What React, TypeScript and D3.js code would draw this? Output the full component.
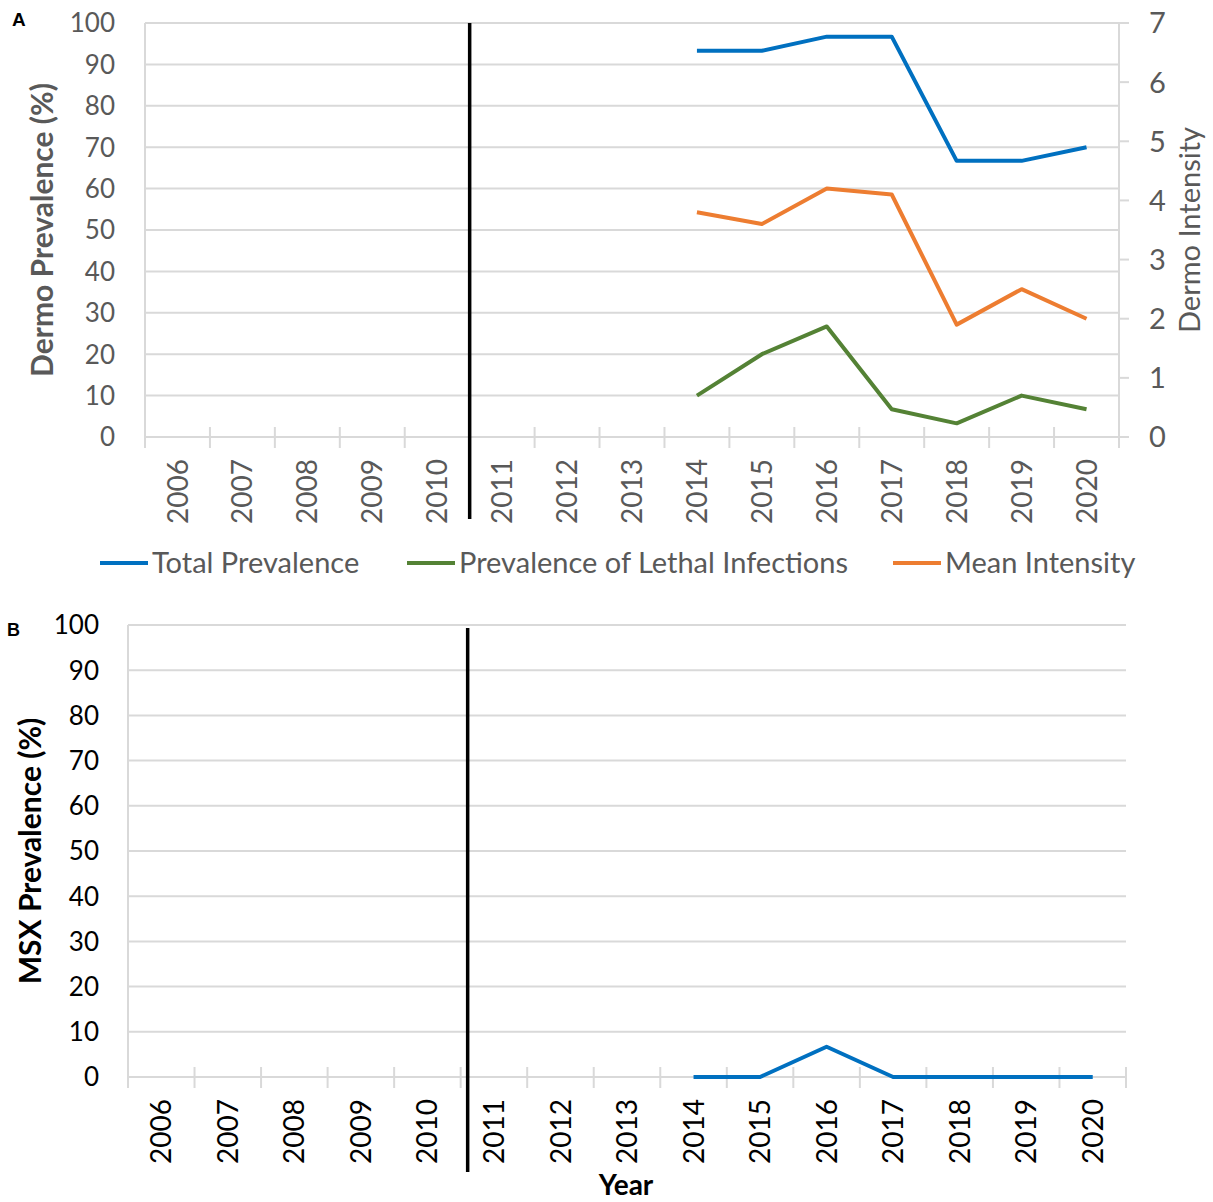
import React from "react";
import * as d3 from "d3";

const years = ["2006","2007","2008","2009","2010","2011","2012","2013","2014","2015","2016","2017","2018","2019","2020"];
const sampledYears = ["2014","2015","2016","2017","2018","2019","2020"];
const totalPrevalence = [93.3, 93.3, 96.7, 96.7, 66.7, 66.7, 70];
const lethalPrevalence = [10, 20, 26.7, 6.7, 3.3, 10, 6.7];
const meanIntensity = [3.8, 3.6, 4.2, 4.1, 1.9, 2.5, 2.0];
const msxPrevalence = [0, 0, 6.7, 0, 0, 0, 0];
const prevalenceTicks = [0, 10, 20, 30, 40, 50, 60, 70, 80, 90, 100];
const intensityTicks = [0, 1, 2, 3, 4, 5, 6, 7];
const legendLabels = ["Total Prevalence", "Prevalence of Lethal Infections", "Mean Intensity"];
const seriesColors = ["#0070C0", "#548235", "#ED7D31"];
const breakYear = "2011";

const FONT = "Lato, 'Open Sans', sans-serif";
const GRID = "#d9d9d9";

type PanelProps = {
  left: number; right: number; top: number; bottom: number;
  textColor: string;
  yTitle: string; yTitleX: number;
  breakOffset: number; breakTop: number; breakBottom: number;
  labelGap: number;
  children?: (x: d3.ScaleBand<string>, y: d3.ScaleLinear<number, number>) => React.ReactNode;
};

function Panel(p: PanelProps) {
  const x = d3.scaleBand<string>().domain(years).range([p.left, p.right]);
  const y = d3.scaleLinear().domain([0, 100]).range([p.bottom, p.top]);
  const bounds = [...years.map((yr) => x(yr) as number), p.right];
  const midY = (p.top + p.bottom) / 2;
  const bx = (x(breakYear) as number) + p.breakOffset;
  return (
    <g>
      {prevalenceTicks.map((t) => (
        <line key={"g" + t} x1={p.left} x2={p.right} y1={y(t)} y2={y(t)} stroke={GRID} strokeWidth={2} />
      ))}
      <line x1={p.left} x2={p.left} y1={p.top} y2={p.bottom} stroke={GRID} strokeWidth={2} />
      {bounds.map((b, i) => (
        <line key={"t" + i} x1={b} x2={b} y1={p.bottom - 10} y2={p.bottom + 11} stroke={GRID} strokeWidth={2} />
      ))}
      {prevalenceTicks.map((t) => (
        <text key={"l" + t} x={p.left - p.labelGap} y={y(t)} dy="0.36em" textAnchor="end"
          fontFamily={FONT} fontSize={26} fill={p.textColor}>{t}</text>
      ))}
      {years.map((yr) => (
        <text key={"y" + yr}
          transform={`translate(${(x(yr) as number) + x.bandwidth() / 2},${p.bottom + 22}) rotate(-90)`}
          dy="0.36em" textAnchor="end" fontFamily={FONT} fontSize={28} fill={p.textColor}>{yr}</text>
      ))}
      <text transform={`translate(${p.yTitleX},${midY}) rotate(-90)`} dy="0.36em" textAnchor="middle"
        fontFamily={FONT} fontWeight="bold" fontSize={30} fill={p.textColor}>{p.yTitle}</text>
      {p.children && p.children(x, y)}
      <line x1={bx} x2={bx} y1={p.breakTop} y2={p.breakBottom} stroke="#000" strokeWidth={3.5} />
    </g>
  );
}

function seriesPath(x: d3.ScaleBand<string>, y: (v: number) => number, values: number[]) {
  const gen = d3.line<number>()
    .x((_, i) => (x(sampledYears[i]) as number) + x.bandwidth() / 2)
    .y((d) => y(d));
  return gen(values) || "";
}

export default function App() {
  const aTop = 23, aBottom = 437, aRight = 1119;
  const yR = d3.scaleLinear().domain([0, 7]).range([aBottom, aTop]);
  const legendX = [100, 407, 893];
  return (
    <svg width={1213} height={1202} style={{ position: "absolute", left: 0, top: 0, background: "#fff" }}>
      <rect x={0} y={0} width={1213} height={1202} fill="#fff" />
      {/* Panel A */}
      <text x={12} y={26} fontFamily="'Liberation Sans', Arial, sans-serif" fontWeight="bold" fontSize={19} fill="#000">A</text>
      <Panel left={145} right={aRight} top={aTop} bottom={aBottom} textColor="#595959"
        yTitle="Dermo Prevalence (%)" yTitleX={42} breakOffset={0} breakTop={aTop} breakBottom={519} labelGap={30}>
        {(x, y) => (
          <g>
            <path d={seriesPath(x, y, totalPrevalence)} fill="none" stroke={seriesColors[0]} strokeWidth={4} strokeLinejoin="round" />
            <path d={seriesPath(x, y, lethalPrevalence)} fill="none" stroke={seriesColors[1]} strokeWidth={4} strokeLinejoin="round" />
            <path d={seriesPath(x, yR, meanIntensity)} fill="none" stroke={seriesColors[2]} strokeWidth={4} strokeLinejoin="round" />
          </g>
        )}
      </Panel>
      <line x1={aRight} x2={aRight} y1={aTop} y2={aBottom} stroke={GRID} strokeWidth={2} />
      {intensityTicks.map((t) => (
        <g key={"r" + t}>
          <line x1={aRight} x2={aRight + 10} y1={yR(t)} y2={yR(t)} stroke={GRID} strokeWidth={2} />
          <text x={aRight + 30} y={yR(t)} dy="0.36em" fontFamily={FONT} fontSize={29} fill="#595959">{t}</text>
        </g>
      ))}
      <text transform={`translate(1190,${(aTop + aBottom) / 2}) rotate(-90)`} dy="0.36em" textAnchor="middle"
        fontFamily={FONT} fontSize={29} fill="#595959">Dermo Intensity</text>
      {legendLabels.map((lab, i) => (
        <g key={lab}>
          <line x1={legendX[i]} x2={legendX[i] + 48} y1={563} y2={563} stroke={seriesColors[i]} strokeWidth={4} />
          <text x={legendX[i] + 52} y={563} dy="0.36em" fontFamily={FONT} fontSize={29} fill="#595959">{lab}</text>
        </g>
      ))}
      {/* Panel B */}
      <text x={7} y={636} fontFamily="'Liberation Sans', Arial, sans-serif" fontWeight="bold" fontSize={18} fill="#000">B</text>
      <Panel left={128} right={1126} top={625} bottom={1077} textColor="#000"
        yTitle="MSX Prevalence (%)" yTitleX={30} breakOffset={7} breakTop={628} breakBottom={1172} labelGap={29}>
        {(x, y) => (
          <path d={seriesPath(x, y, msxPrevalence)} fill="none" stroke={seriesColors[0]} strokeWidth={4} strokeLinejoin="round" />
        )}
      </Panel>
      <text x={626} y={1195} textAnchor="middle" fontFamily={FONT} fontWeight="bold" fontSize={28} fill="#000">Year</text>
    </svg>
  );
}
